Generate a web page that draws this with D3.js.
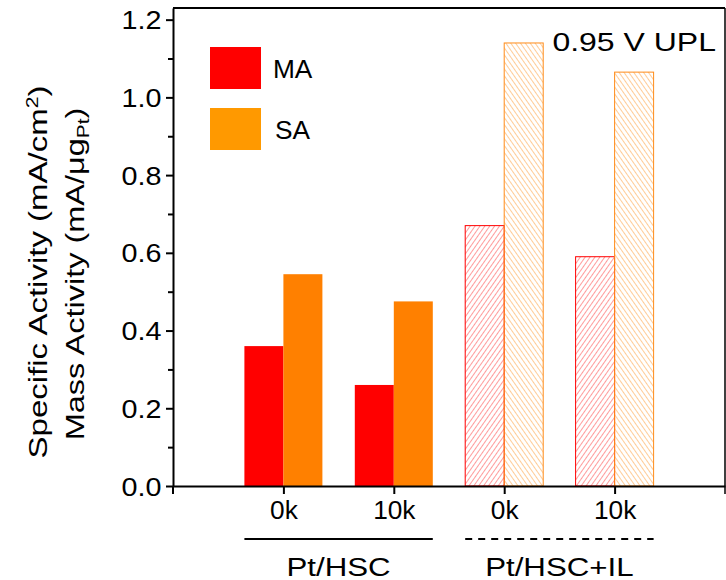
<!DOCTYPE html>
<html lang="en">
<head>
<meta charset="UTF-8">
<title>Activity bars</title>
<script src="https://cdn.jsdelivr.net/npm/d3@7"></script>
<style>
  body { margin: 0; background: #fff; }
  text { font-family: "Liberation Sans", Arial, sans-serif; fill: #000; }
</style>
</head>
<body>
<div id="chart"></div>
<script>
// data
const cycles = ["0k", "10k", "0k", "10k"];
const groups = ["Pt/HSC", "Pt/HSC", "Pt/HSC+IL", "Pt/HSC+IL"];
const maValues = [0.36, 0.26, 0.67, 0.59];
const saValues = [0.545, 0.475, 1.14, 1.065];
const hatched = [false, false, true, true];
const yTicks = [0, 0.2, 0.4, 0.6, 0.8, 1.0, 1.2];

const W = 726, H = 580;
const margin = {top: 8, right: 1, bottom: 94, left: 173};
const width = W - margin.left - margin.right,
      height = H - margin.top - margin.bottom;

const svg = d3.select("#chart").append("svg")
    .attr("width", W).attr("height", H);

const defs = svg.append("defs");
function hatch(id, color, dir) {
  const p = defs.append("pattern")
      .attr("id", id)
      .attr("patternUnits", "userSpaceOnUse")
      .attr("width", 4).attr("height", 4)
      .attr("patternTransform", `rotate(${dir})`);
  p.append("line")
      .attr("x1", 0).attr("y1", 0).attr("x2", 0).attr("y2", 4)
      .attr("stroke", color).attr("stroke-width", 1);
}
hatch("hatchMA", "#ff3a3a", 35);
hatch("hatchSA", "#ff9a30", -35);

// text helper: wide-looking labels like the original
function label(parent, x, y, str, size, sx, rot) {
  return parent.append("text")
    .attr("transform", `translate(${x},${y}) rotate(${rot || 0}) scale(${sx},1)`)
    .style("font-size", size + "px")
    .text(str);
}

const g = svg.append("g")
    .attr("transform", `translate(${margin.left},${margin.top})`);

const x = d3.scaleLinear().domain([0, 5]).range([0, width]);
const y = d3.scaleLinear().domain([0, 1.23]).range([height, 0]);
const barW = 39;

// bars
cycles.forEach((c, i) => {
  const cx = x(i + 1);
  g.append("rect")
    .attr("x", cx - barW).attr("width", barW)
    .attr("y", y(maValues[i])).attr("height", y(0) - y(maValues[i]))
    .attr("fill", hatched[i] ? "url(#hatchMA)" : "#ff0000")
    .attr("stroke", hatched[i] ? "#ff0000" : "none")
    .attr("stroke-width", 1);
  g.append("rect")
    .attr("x", cx).attr("width", barW)
    .attr("y", y(saValues[i])).attr("height", y(0) - y(saValues[i]))
    .attr("fill", hatched[i] ? "url(#hatchSA)" : "#ff8000")
    .attr("stroke", hatched[i] ? "#ff8c1a" : "none")
    .attr("stroke-width", 1);
});

// frame
g.append("line").attr("x1", 0).attr("x2", width).attr("y1", 0).attr("y2", 0)
  .attr("stroke", "#000").attr("stroke-width", 2);
g.append("line").attr("x1", width).attr("x2", width).attr("y1", 0).attr("y2", height + 8)
  .attr("stroke", "#000").attr("stroke-width", 1.5);

// y axis
const yAxis = g.append("g")
  .call(d3.axisLeft(y).tickValues(yTicks).tickSize(7).tickSizeOuter(0)
    .tickFormat(d3.format(".1f")));
yAxis.select(".domain").attr("stroke-width", 2);
yAxis.selectAll(".tick line").attr("stroke-width", 2);
yAxis.selectAll("text").style("font-size", "25px").attr("dy", "0.36em")
  .attr("x", -10).attr("transform", "scale(1.15,1)");
g.append("g")
  .call(d3.axisLeft(y).tickValues(d3.range(0.1, 1.2, 0.2)).tickSize(5).tickFormat(""))
  .call(a => a.select(".domain").remove())
  .selectAll("line").attr("stroke-width", 2);
// axis continues a little below the x axis
g.append("line").attr("x1", 0).attr("x2", 0).attr("y1", height).attr("y2", height + 8)
  .attr("stroke", "#000").attr("stroke-width", 2);

// x axis
const xAxis = g.append("g")
  .attr("transform", `translate(0,${height})`)
  .call(d3.axisBottom(x).tickValues([1, 2, 3, 4]).tickSize(8).tickSizeOuter(0)
    .tickFormat((d) => cycles[d - 1]));
xAxis.select(".domain").attr("stroke-width", 2);
xAxis.selectAll(".tick line").attr("stroke-width", 2);
xAxis.selectAll("text").style("font-size", "25px").attr("y", 15)
  .attr("transform", "scale(1.05,1)");

// group lines and labels
const groupNames = Array.from(new Set(groups));
groupNames.forEach((name, k) => {
  const idx = groups.map((gname, i) => gname === name ? i : -1).filter(i => i >= 0);
  const x0 = x(idx[0] + 1) - barW, x1 = x(idx[idx.length - 1] + 1) + barW;
  g.append("line")
    .attr("x1", x0).attr("x2", x1)
    .attr("y1", height + 53).attr("y2", height + 53)
    .attr("stroke", "#000").attr("stroke-width", 1.8)
    .attr("stroke-dasharray", k === 0 ? null : "7,6");
  label(g, (x0 + x1) / 2, height + 90, name, 25, 1.25)
    .attr("text-anchor", "middle");
});

// y label
const yl = label(svg, 47, 272, "", 25, 1.32, -90).attr("text-anchor", "middle");
yl.append("tspan").text("Specific Activity (mA/cm");
yl.append("tspan").attr("dy", -9).style("font-size", "16px").text("2");
yl.append("tspan").attr("dy", 9).text(")");
const yl2 = label(svg, 84, 274, "", 25, 1.3, -90).attr("text-anchor", "middle");
yl2.append("tspan").text("Mass Activity (mA/μg");
yl2.append("tspan").attr("dy", 5).style("font-size", "16px").text("Pt");
yl2.append("tspan").attr("dy", -5).text(")");

// legend
const legend = [["MA", "#ff0000"], ["SA", "#ff9900"]];
legend.forEach(([name, col], i) => {
  svg.append("rect")
    .attr("x", 210).attr("y", 47 + i * 61)
    .attr("width", 51).attr("height", 42)
    .attr("fill", col);
  label(svg, 273 + i * 2, 78 + i * 61, name, 25, 1.05);
});

label(svg, 716, 51, "0.95 V UPL", 25, 1.28).attr("text-anchor", "end");
</script>
</body>
</html>
